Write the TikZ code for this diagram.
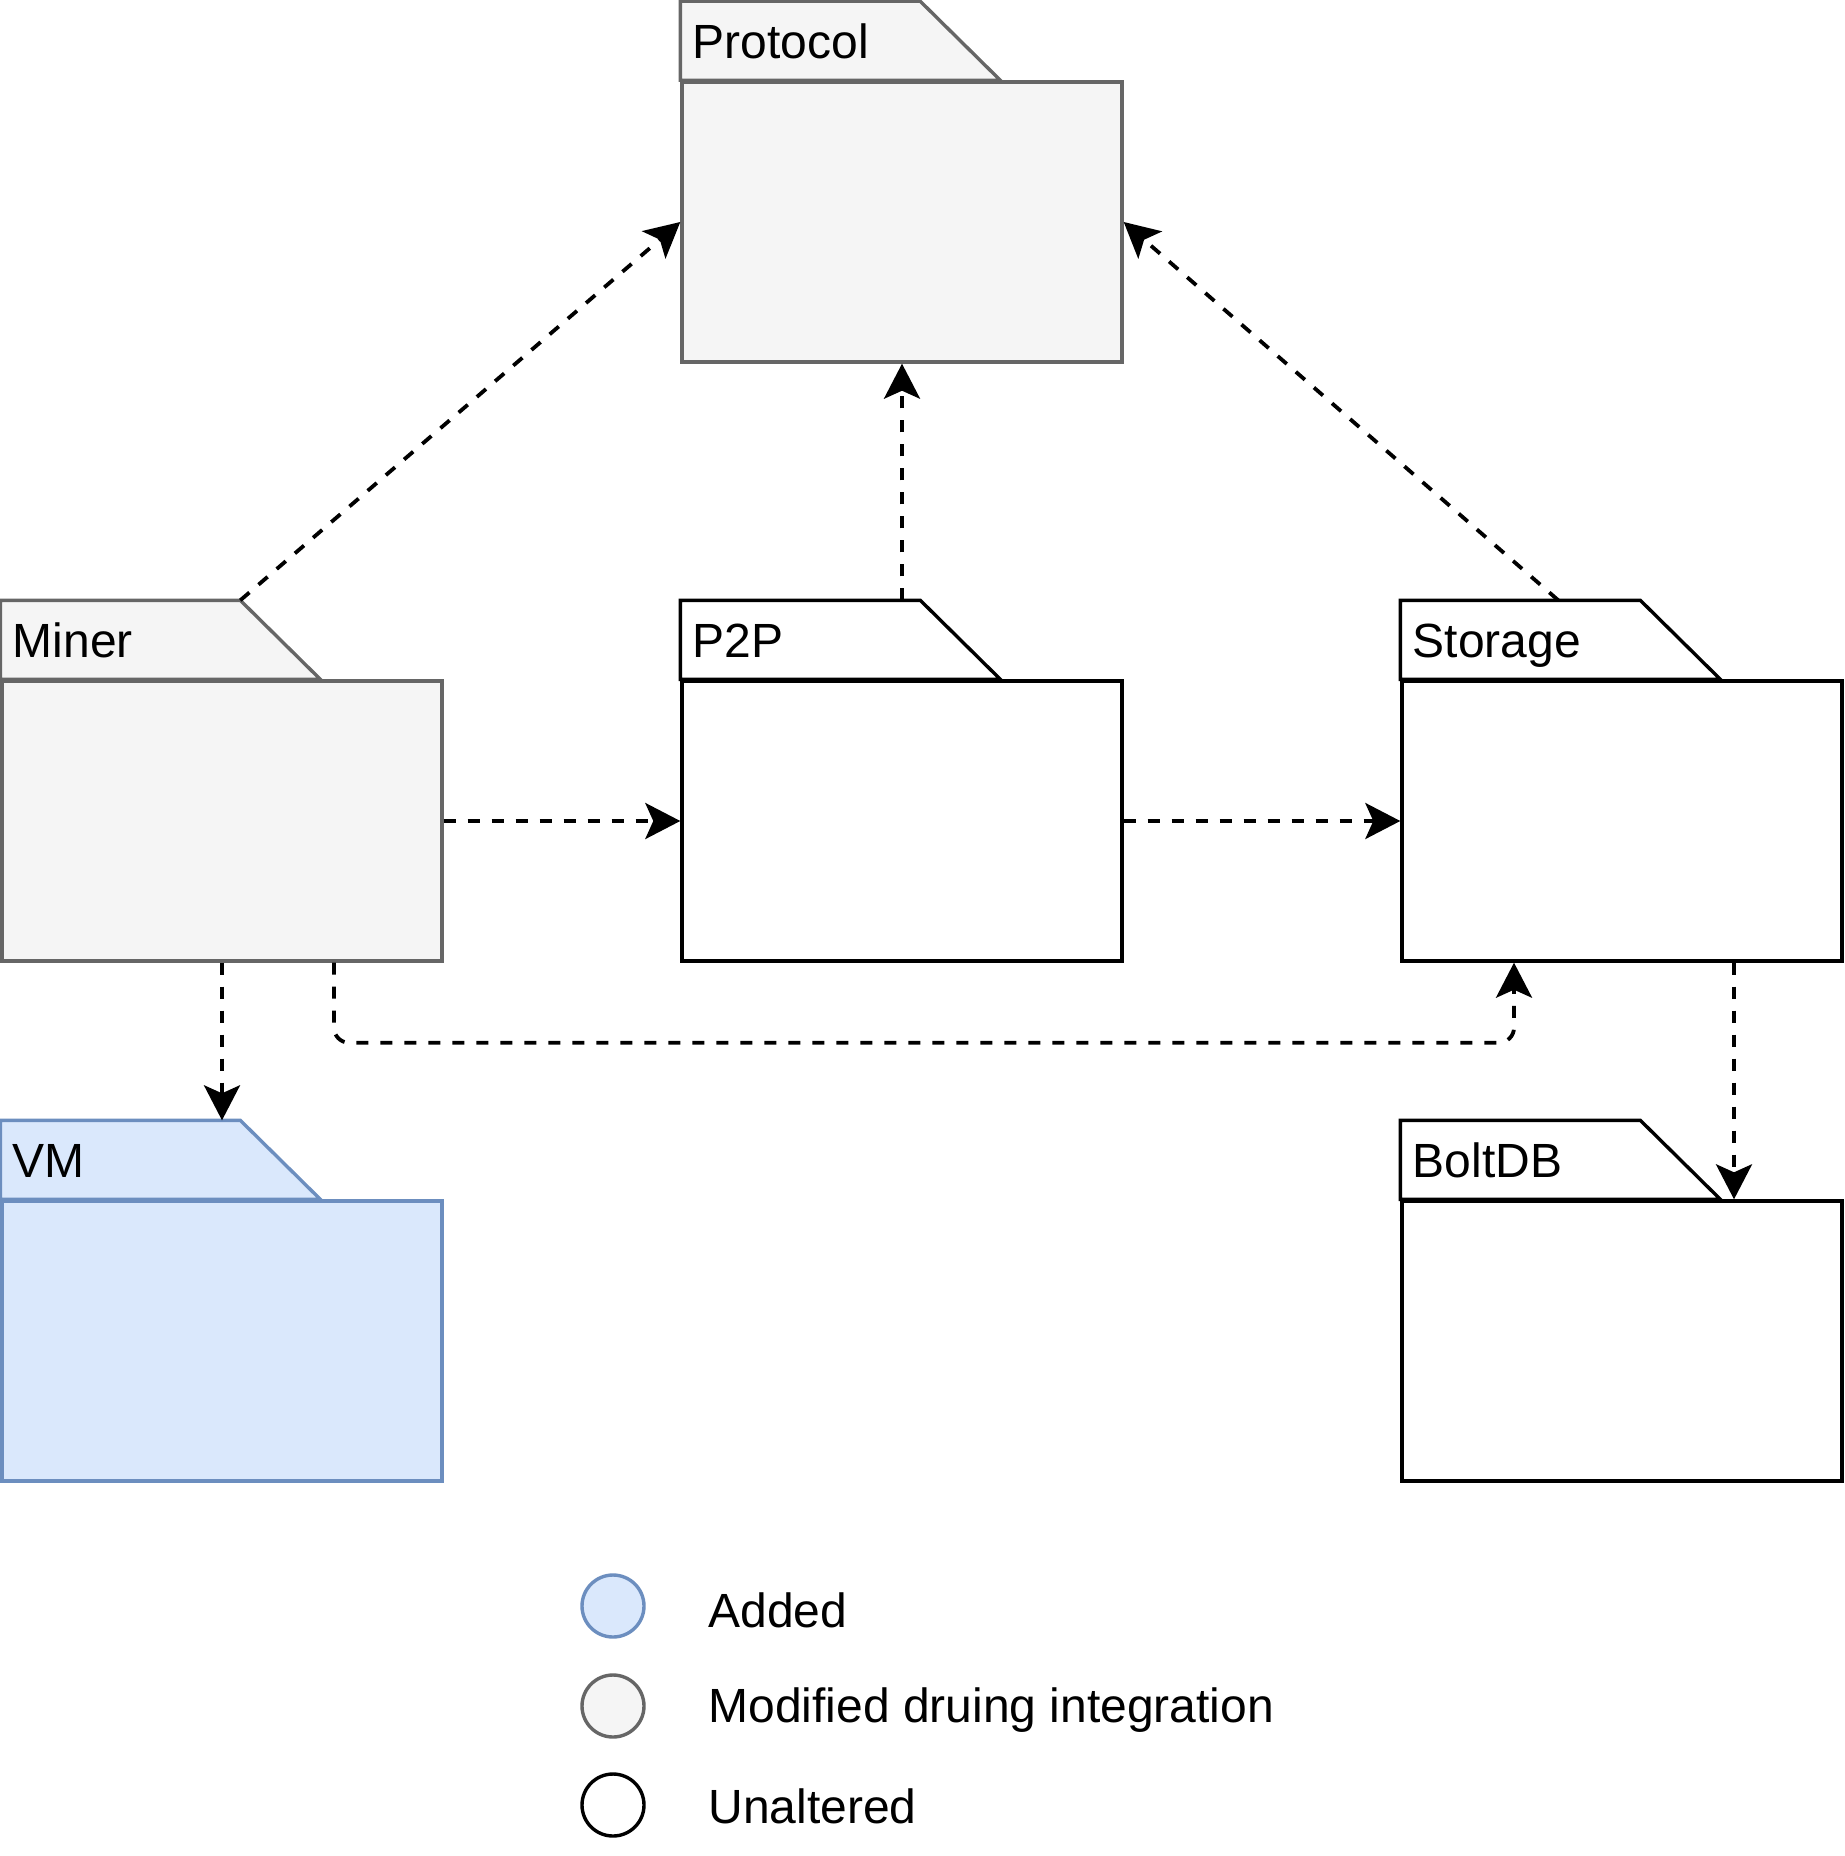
\documentclass[tikz,border=0pt]{standalone}
\usepackage{fontspec}
\setmainfont{Liberation Sans}
\usetikzlibrary{arrows.meta,calc}

\definecolor{modline}{HTML}{666666}
\definecolor{modfill}{HTML}{F5F5F5}
\definecolor{addline}{HTML}{6C8EBF}
\definecolor{addfill}{HTML}{DAE8FC}

\begin{document}
\begin{tikzpicture}[x=0.5pt, y=-0.5pt,
  every node/.style={font=\fontsize{24}{28}\selectfont},
  pkg/.style={rectangle, line width=1.7pt, minimum width=220pt, minimum height=140pt, inner sep=0pt},
  modified/.style={draw=modline, fill=modfill},
  added/.style={draw=addline, fill=addfill},
  unaltered/.style={draw=black, fill=white},
  tablabel/.style={anchor=base west, inner sep=0pt},
  dep/.style={line width=1.9pt, dash pattern=on 6pt off 6pt, -{Stealth[length=17.5pt, width=18pt, inset=4pt]}},
  legdot/.style={circle, line width=1.7pt, minimum size=31pt, inner sep=0pt}]
% keep the page the size of the reference
\useasboundingbox (0,0) rectangle (1844,1856);

% Packages: body first, then the tab on top of it
\node[pkg, modified] (protocol) at (902, 222) {};
\filldraw[line width=1.7pt, modified] (protocol.north west) -- ++(0,-79) -- ++(240,0) coordinate (protocol-tab) -- ++(80,79) -- cycle;
\node[tablabel] (protocol-label) at ([shift={(12,-22)}]protocol.north west) {Protocol};

\node[pkg, modified] (miner) at (222, 821) {};
\filldraw[line width=1.7pt, modified] (miner.north west) -- ++(0,-79) -- ++(240,0) coordinate (miner-tab) -- ++(80,79) -- cycle;
\node[tablabel] (miner-label) at ([shift={(12,-22)}]miner.north west) {Miner};

\node[pkg, unaltered] (p2p) at (902, 821) {};
\filldraw[line width=1.7pt, unaltered] (p2p.north west) -- ++(0,-79) -- ++(240,0) coordinate (p2p-tab) -- ++(80,79) -- cycle;
\node[tablabel] (p2p-label) at ([shift={(12,-22)}]p2p.north west) {P2P};

\node[pkg, unaltered] (storage) at (1622, 821) {};
\filldraw[line width=1.7pt, unaltered] (storage.north west) -- ++(0,-79) -- ++(240,0) coordinate (storage-tab) -- ++(80,79) -- cycle;
\node[tablabel] (storage-label) at ([shift={(12,-22)}]storage.north west) {Storage};

\node[pkg, added] (vm) at (222, 1341) {};
\filldraw[line width=1.7pt, added] (vm.north west) -- ++(0,-79) -- ++(240,0) coordinate (vm-tab) -- ++(80,79) -- cycle;
\node[tablabel] (vm-label) at ([shift={(12,-22)}]vm.north west) {VM};

\node[pkg, unaltered] (boltdb) at (1622, 1341) {};
\filldraw[line width=1.7pt, unaltered] (boltdb.north west) -- ++(0,-79) -- ++(240,0) coordinate (boltdb-tab) -- ++(80,79) -- cycle;
\node[tablabel] (boltdb-label) at ([shift={(12,-22)}]boltdb.north west) {BoltDB};

% Dependencies
\draw[dep] (miner-tab) -- (protocol.west);
\draw[dep] (p2p.north |- p2p-tab) -- (protocol.south);
\draw[dep] ($(storage.north west |- storage-tab)+(158,0)$) -- (protocol.east);
\draw[dep] (miner.east) -- (p2p.west);
\draw[dep] (p2p.east) -- (storage.west);
\draw[dep] (miner.south) -- (miner.south |- vm-tab);
\draw[dep, rounded corners=7.5pt] ($(miner.south)+(112,0)$) -- ++(0,80) -| ($(storage.south)+(-108,0)$);
\draw[dep] ($(storage.south)+(112,0)$) -- ($(boltdb.north)+(112,0)$);

% Legend
\node[legdot, added] (leg-added) at (613, 1606) {};
\node[tablabel] (leg-added-label) at (708, 1627) {Added};
\node[legdot, modified] (leg-modified) at (613, 1706) {};
\node[tablabel] (leg-modified-label) at (708, 1722) {Modified druing integration};
\node[legdot, unaltered] (leg-unaltered) at (613, 1805) {};
\node[tablabel] (leg-unaltered-label) at (708, 1823) {Unaltered};
\end{tikzpicture}
\end{document}
